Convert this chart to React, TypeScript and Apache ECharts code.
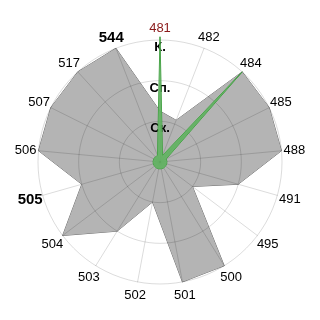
import React, { useEffect, useRef } from "react";
import * as echarts from "echarts";

const categories = ["481", "482", "484", "485", "488", "491", "495", "500", "501", "502", "503", "504", "505", "506", "507", "517", "544"];
const grayValues = [1.25, 1.1, 3, 3, 3, 2, 1, 3, 3, 1, 2, 3, 2, 3, 3, 3, 3];
const greenValues = [3.08, 0.17, 3, 0.17, 0.17, 0.17, 0.17, 0.17, 0.17, 0.17, 0.17, 0.17, 0.17, 0.17, 0.17, 0.17, 0.17];
const levelLabels = ["", "Ск.", "Сп.", "К."];
const boldCategories = ["544", "505"];
const redCategories = ["481"];

// clockwise order: first stays, the rest reversed (radar runs counter-clockwise)
const order = [0, ...categories.map((_, i) => i).slice(1).reverse()];

export default function App() {
  const ref = useRef<HTMLDivElement>(null);
  useEffect(() => {
    if (!ref.current) return;
    const chart = echarts.init(ref.current, null, { renderer: "svg" });
    const indicator = order.map((i, k) => {
      const ind: any = { name: categories[i], max: 3, min: 0 };
      if (k === 0) {
        ind.axisLabel = {
          show: true,
          formatter: (v: number) => levelLabels[Math.round(v)] || "",
          margin: 0,
          align: "center",
          verticalAlign: "top",
          fontWeight: "bold",
          fontSize: 13,
          color: "#000",
          fontFamily: "Liberation Sans",
        };
      }
      return ind;
    });
    chart.setOption({
      animation: false,
      radar: {
        z: 2,
        center: [160, 162],
        radius: 122,
        shape: "circle",
        splitNumber: 3,
        axisNameGap: 13,
        axisName: {
          color: "#000",
          fontSize: 13,
          fontFamily: "Liberation Sans",
          align: "center",
          verticalAlign: "middle",
          formatter: (name: string) => {
            if (boldCategories.includes(name)) return `{b|${name}}`;
            if (redCategories.includes(name)) return `{r|${name}}`;
            return name;
          },
          rich: {
            b: { fontWeight: "bold", fontSize: 15, color: "#000", fontFamily: "Liberation Sans" },
            r: { color: "#8b1a1a", fontSize: 13, fontFamily: "Liberation Sans" },
          },
        },
        axisLine: { lineStyle: { color: "rgba(0,0,0,0.14)", width: 1 } },
        splitLine: { lineStyle: { color: "rgba(0,0,0,0.14)", width: 1 } },
        splitArea: { show: false },
        axisTick: { show: false },
        axisLabel: { show: false },
        indicator,
      },
      series: [
        {
          type: "radar",
          z: 1,
          symbol: "none",
          lineStyle: { color: "#6e6e6e", width: 1 },
          areaStyle: { color: "#b4b4b4", opacity: 1 },
          data: [{ value: order.map((i) => grayValues[i]) }],
        },
        {
          type: "radar",
          z: 3,
          symbol: "none",
          lineStyle: { color: "#3a9a3a", width: 1 },
          areaStyle: { color: "#5fb35f", opacity: 0.9 },
          data: [{ value: order.map((i) => greenValues[i]) }],
        },
      ],
    });
    return () => chart.dispose();
  }, []);
  return <div ref={ref} style={{ position: "fixed", left: 0, top: 0, width: 320, height: 320 }} />;
}
